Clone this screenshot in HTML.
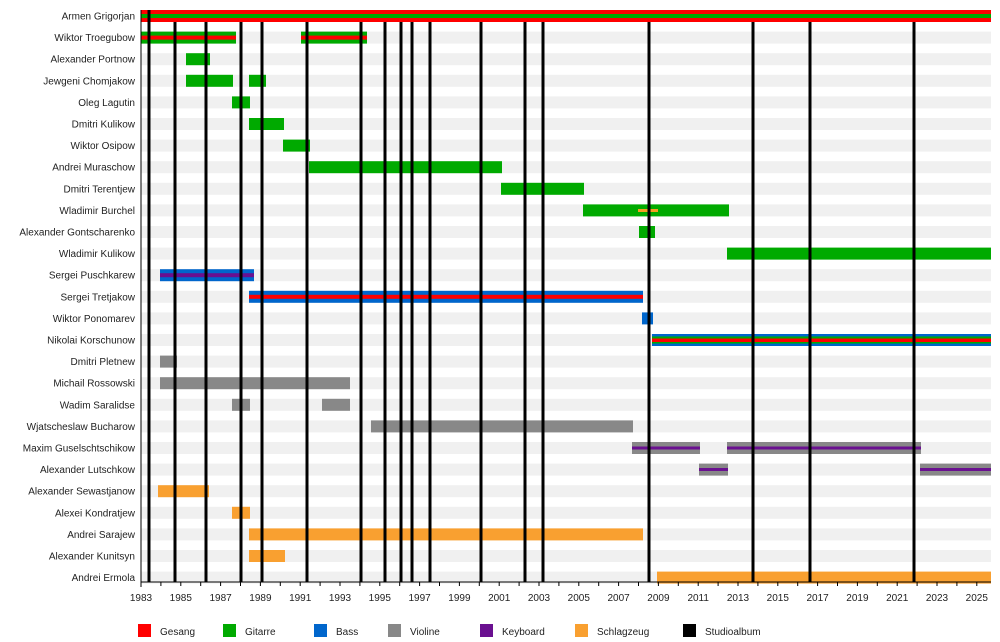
<!DOCTYPE html>
<html><head><meta charset="utf-8"><style>
body{margin:0;background:#fff}
svg{display:block;font-family:"Liberation Sans",sans-serif}
</style></head><body>
<svg width="1000" height="642" viewBox="0 0 1000 642">
<g fill="#f0f0f0">
<rect x="141" y="10" width="850" height="12"/><rect x="141" y="31.6" width="850" height="12"/><rect x="141" y="53.2" width="850" height="12"/><rect x="141" y="74.8" width="850" height="12"/><rect x="141" y="96.4" width="850" height="12"/><rect x="141" y="118" width="850" height="12"/><rect x="141" y="139.6" width="850" height="12"/><rect x="141" y="161.2" width="850" height="12"/><rect x="141" y="182.8" width="850" height="12"/><rect x="141" y="204.4" width="850" height="12"/><rect x="141" y="226" width="850" height="12"/><rect x="141" y="247.6" width="850" height="12"/><rect x="141" y="269.2" width="850" height="12"/><rect x="141" y="290.8" width="850" height="12"/><rect x="141" y="312.4" width="850" height="12"/><rect x="141" y="334" width="850" height="12"/><rect x="141" y="355.6" width="850" height="12"/><rect x="141" y="377.2" width="850" height="12"/><rect x="141" y="398.8" width="850" height="12"/><rect x="141" y="420.4" width="850" height="12"/><rect x="141" y="442" width="850" height="12"/><rect x="141" y="463.6" width="850" height="12"/><rect x="141" y="485.2" width="850" height="12"/><rect x="141" y="506.8" width="850" height="12"/><rect x="141" y="528.4" width="850" height="12"/><rect x="141" y="550" width="850" height="12"/><rect x="141" y="571.6" width="850" height="12"/>
</g>
<g font-size="10" fill="#222" text-anchor="end">
<text x="135" y="19.5">Armen Grigorjan</text><text x="135" y="41">Wiktor Troegubow</text><text x="135" y="62.7">Alexander Portnow</text><text x="135" y="84.3">Jewgeni Chomjakow</text><text x="135" y="105.9">Oleg Lagutin</text><text x="135" y="127.5">Dmitri Kulikow</text><text x="135" y="149.1">Wiktor Osipow</text><text x="135" y="170.7">Andrei Muraschow</text><text x="135" y="192.3">Dmitri Terentjew</text><text x="135" y="213.9">Wladimir Burchel</text><text x="135" y="235.5">Alexander Gontscharenko</text><text x="135" y="257.1">Wladimir Kulikow</text><text x="135" y="278.7">Sergei Puschkarew</text><text x="135" y="300.3">Sergei Tretjakow</text><text x="135" y="321.9">Wiktor Ponomarev</text><text x="135" y="343.5">Nikolai Korschunow</text><text x="135" y="365.1">Dmitri Pletnew</text><text x="135" y="386.7">Michail Rossowski</text><text x="135" y="408.3">Wadim Saralidse</text><text x="135" y="429.9">Wjatscheslaw Bucharow</text><text x="135" y="451.5">Maxim Guselschtschikow</text><text x="135" y="473.1">Alexander Lutschkow</text><text x="135" y="494.7">Alexander Sewastjanow</text><text x="135" y="516.3">Alexei Kondratjew</text><text x="135" y="537.9">Andrei Sarajew</text><text x="135" y="559.5">Alexander Kunitsyn</text><text x="135" y="581.1">Andrei Ermola</text>
</g>
<!-- bars -->
<rect x="141" y="10" width="850" height="12" fill="#ff0000"/><rect x="141" y="14" width="850" height="4" fill="#00aa00"/>
<rect x="141" y="31.6" width="95" height="12" fill="#00aa00"/><rect x="141" y="35.6" width="95" height="4" fill="#ff0000"/>
<rect x="301" y="31.6" width="66" height="12" fill="#00aa00"/><rect x="301" y="35.6" width="66" height="4" fill="#ff0000"/>
<g fill="#00aa00">
<rect x="186" y="53.2" width="24" height="12"/>
<rect x="186" y="74.8" width="47" height="12"/><rect x="249" y="74.8" width="17" height="12"/>
<rect x="232" y="96.4" width="18" height="12"/>
<rect x="249" y="118" width="35" height="12"/>
<rect x="283" y="139.6" width="27" height="12"/>
<rect x="309" y="161.2" width="193" height="12"/>
<rect x="501" y="182.8" width="83" height="12"/>
<rect x="583" y="204.4" width="146" height="12"/>
<rect x="639" y="226" width="16" height="12"/>
<rect x="727" y="247.6" width="264" height="12"/>
</g>
<rect x="638" y="209" width="20" height="3" fill="#f4a020"/>
<rect x="160" y="269.2" width="94" height="12" fill="#0066cc"/><rect x="160" y="273.2" width="94" height="4" fill="#6a1090"/>
<rect x="249" y="290.8" width="394" height="12" fill="#0066cc"/><rect x="249" y="294.8" width="394" height="4" fill="#ff0000"/>
<rect x="642" y="312.4" width="11" height="12" fill="#0066cc"/>
<rect x="652" y="334" width="339" height="12" fill="#0066cc"/><rect x="652" y="336.5" width="339" height="7" fill="#00aa00"/><rect x="652" y="338.5" width="339" height="3.5" fill="#ff0000"/>
<g fill="#888">
<rect x="160" y="355.6" width="17" height="12"/>
<rect x="160" y="377.2" width="190" height="12"/>
<rect x="232" y="398.8" width="18" height="12"/><rect x="322" y="398.8" width="28" height="12"/>
<rect x="371" y="420.4" width="262" height="12"/>
<rect x="632" y="442" width="68" height="12"/><rect x="727" y="442" width="194" height="12"/>
<rect x="699" y="463.6" width="29" height="12"/><rect x="920" y="463.6" width="71" height="12"/>
</g>
<g fill="#6a1090">
<rect x="632" y="446.5" width="68" height="3"/><rect x="727" y="446.5" width="194" height="3"/>
<rect x="699" y="468" width="29" height="3"/><rect x="920" y="468" width="71" height="3"/>
</g>
<g fill="#f9a030">
<rect x="158" y="485.2" width="51" height="12"/>
<rect x="232" y="506.8" width="18" height="12"/>
<rect x="249" y="528.4" width="394" height="12"/>
<rect x="249" y="550" width="36" height="12"/>
<rect x="657" y="571.6" width="334" height="12"/>
</g>
<!-- album lines -->
<g stroke="#000" stroke-width="3">
<line x1="149" y1="10" x2="149" y2="582"/><line x1="175" y1="22" x2="175" y2="582"/><line x1="206" y1="22" x2="206" y2="582"/><line x1="241" y1="22" x2="241" y2="582"/><line x1="262" y1="22" x2="262" y2="582"/><line x1="307" y1="22" x2="307" y2="582"/><line x1="361" y1="22" x2="361" y2="582"/><line x1="385" y1="22" x2="385" y2="582"/><line x1="401" y1="22" x2="401" y2="582"/><line x1="412" y1="22" x2="412" y2="582"/><line x1="430" y1="22" x2="430" y2="582"/><line x1="481" y1="22" x2="481" y2="582"/><line x1="525" y1="22" x2="525" y2="582"/><line x1="543" y1="22" x2="543" y2="582"/><line x1="649" y1="22" x2="649" y2="582"/><line x1="753" y1="22" x2="753" y2="582"/><line x1="810" y1="22" x2="810" y2="582"/><line x1="914" y1="22" x2="914" y2="582"/>
</g>
<!-- axes -->
<line x1="141" y1="582" x2="991" y2="582" stroke="#000" stroke-width="1"/>
<line x1="141" y1="10" x2="141" y2="587" stroke="#000" stroke-width="1"/>
<g stroke="#000" stroke-width="1">
<path d="M160.9 582v4M180.8 582v4M200.7 582v4M220.6 582v4M240.5 582v4M260.4 582v4M280.3 582v4M300.2 582v4M320.1 582v4M340 582v4M359.9 582v4M379.8 582v4M399.7 582v4M419.6 582v4M439.5 582v4M459.4 582v4M479.3 582v4M499.2 582v4M519.1 582v4M539 582v4M558.9 582v4M578.8 582v4M598.7 582v4M618.6 582v4M638.5 582v4M658.4 582v4M678.3 582v4M698.2 582v4M718.1 582v4M738 582v4M757.9 582v4M777.8 582v4M797.7 582v4M817.6 582v4M837.5 582v4M857.4 582v4M877.3 582v4M897.2 582v4M917.1 582v4M937 582v4M956.9 582v4M976.8 582v4"/>
</g>
<g font-size="10" fill="#222" text-anchor="middle">
<text x="141" y="601">1983</text><text x="180.8" y="601">1985</text><text x="220.6" y="601">1987</text><text x="260.4" y="601">1989</text><text x="300.2" y="601">1991</text><text x="340" y="601">1993</text><text x="379.8" y="601">1995</text><text x="419.6" y="601">1997</text><text x="459.4" y="601">1999</text><text x="499.2" y="601">2001</text><text x="539" y="601">2003</text><text x="578.8" y="601">2005</text><text x="618.6" y="601">2007</text><text x="658.4" y="601">2009</text><text x="698.2" y="601">2011</text><text x="738" y="601">2013</text><text x="777.8" y="601">2015</text><text x="817.6" y="601">2017</text><text x="857.4" y="601">2019</text><text x="897.2" y="601">2021</text><text x="937" y="601">2023</text><text x="976.8" y="601">2025</text>
</g>
<!-- legend -->
<rect x="138" y="624" width="13" height="13" fill="#ff0000"/><rect x="223" y="624" width="13" height="13" fill="#00aa00"/><rect x="314" y="624" width="13" height="13" fill="#0066cc"/><rect x="388" y="624" width="13" height="13" fill="#888"/><rect x="480" y="624" width="13" height="13" fill="#6a1090"/><rect x="575" y="624" width="13" height="13" fill="#f9a030"/><rect x="683" y="624" width="13" height="13" fill="#000"/>
<g font-size="10" fill="#222">
<text x="160" y="635">Gesang</text><text x="245" y="635">Gitarre</text><text x="336" y="635">Bass</text><text x="410" y="635">Violine</text><text x="502" y="635">Keyboard</text><text x="597" y="635">Schlagzeug</text><text x="705" y="635">Studioalbum</text>
</g>
</svg>
</body></html>
